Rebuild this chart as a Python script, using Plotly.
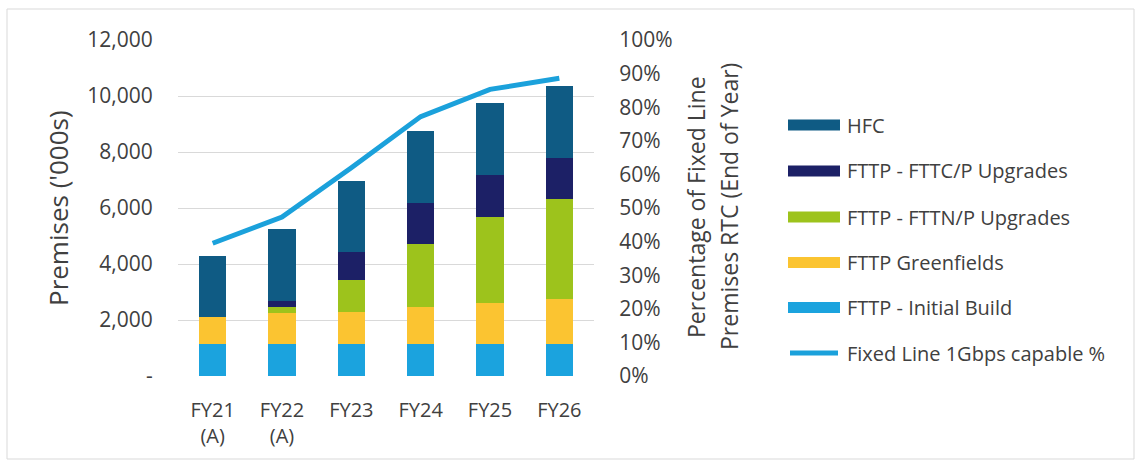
import plotly.graph_objects as go

# Rollout data (premises in '000s)
categories = ["FY21<br>(A)", "FY22<br>(A)", "FY23", "FY24", "FY25", "FY26"]
initial_build = [1150, 1150, 1150, 1150, 1150, 1150]
greenfields = [970, 1110, 1150, 1300, 1450, 1600]
fttn_upgrades = [0, 190, 1130, 2250, 3070, 3560]
fttc_upgrades = [0, 240, 990, 1490, 1510, 1490]
hfc = [2180, 2560, 2540, 2560, 2560, 2570]
gbps_capable_pct = [0.395, 0.473, 0.62, 0.772, 0.853, 0.886]

left_tick_vals = [0, 2000, 4000, 6000, 8000, 10000, 12000]
left_tick_text = ["-", "2,000", "4,000", "6,000", "8,000", "10,000", "12,000"]

bar_series = [
    ("FTTP - Initial Build", initial_build, "#1BA3DE"),
    ("FTTP Greenfields", greenfields, "#FBC431"),
    ("FTTP - FTTN/P Upgrades", fttn_upgrades, "#9DC31C"),
    ("FTTP - FTTC/P Upgrades", fttc_upgrades, "#1C2066"),
    ("HFC", hfc, "#0F5B84"),
]
line_name = "Fixed Line 1Gbps capable %"
line_color = "#1BA1DB"

FONT = "Open Sans"
TEXT = "#404040"
W, H = 1136, 461
L, R, T, B = 178, W - 594, 40, H - 376
PW, PH = W - L - R, H - T - B


def px(x):
    return (x - L) / PW


def py(y):
    return (H - B - y) / PH


fig = go.Figure()
for name, vals, color in bar_series:
    fig.add_trace(go.Bar(x=categories, y=vals, name=name,
                         marker=dict(color=color, line=dict(width=0))))
fig.add_trace(go.Scatter(x=categories, y=gbps_capable_pct, name=line_name,
                         yaxis="y2", mode="lines",
                         line=dict(color=line_color, width=5)))

shapes = []
annotations = []

# chart frame
shapes.append(dict(type="rect", xref="paper", yref="paper",
                   x0=px(7), x1=px(1134), y0=py(459), y1=py(9),
                   line=dict(color="#D9D9D9", width=1), layer="below"))

# custom legend with wide swatches
legend_rows = [
    ("HFC", "#0F5B84", "bar", 125),
    ("FTTP - FTTC/P Upgrades", "#1C2066", "bar", 171),
    ("FTTP - FTTN/P Upgrades", "#9DC31C", "bar", 217),
    ("FTTP Greenfields", "#FBC431", "bar", 262.5),
    ("FTTP - Initial Build", "#1BA3DE", "bar", 307.5),
    (line_name, line_color, "line", 353),
]
for label, color, kind, yc in legend_rows:
    if kind == "bar":
        shapes.append(dict(type="rect", xref="paper", yref="paper",
                           x0=px(788), x1=px(840), y0=py(yc + 5.5), y1=py(yc - 5.5),
                           fillcolor=color, line=dict(width=0)))
    else:
        shapes.append(dict(type="line", xref="paper", yref="paper",
                           x0=px(790), x1=px(838), y0=py(yc), y1=py(yc),
                           line=dict(color=color, width=5)))
    annotations.append(dict(text=label, xref="paper", yref="paper",
                            x=px(845), y=py(yc), xanchor="left", yanchor="middle",
                            showarrow=False, font=dict(family=FONT, size=20, color=TEXT)))

# axis titles
annotations.append(dict(text="Premises ('000s)", xref="paper", yref="paper",
                        x=px(58), y=py(208), textangle=-90, showarrow=False,
                        xanchor="center", yanchor="middle",
                        font=dict(family=FONT, size=26, color=TEXT)))
annotations.append(dict(text="Percentage of Fixed Line", xref="paper", yref="paper",
                        x=px(696), y=py(207), textangle=-90, showarrow=False,
                        xanchor="center", yanchor="middle",
                        font=dict(family=FONT, size=23, color=TEXT)))
annotations.append(dict(text="Premises RTC (End of Year)", xref="paper", yref="paper",
                        x=px(729), y=py(207), textangle=-90, showarrow=False,
                        xanchor="center", yanchor="middle",
                        font=dict(family=FONT, size=23, color=TEXT)))

fig.update_layout(
    width=W, height=H,
    margin=dict(l=L, r=R, t=T, b=B),
    paper_bgcolor="white", plot_bgcolor="white",
    barmode="stack", bargap=0.61,
    showlegend=False,
    font=dict(family=FONT, size=20, color=TEXT),
    xaxis=dict(showgrid=False, showline=False, zeroline=False,
               ticks="outside", ticklen=16, tickcolor="rgba(0,0,0,0)",
               tickfont=dict(size=20, color=TEXT)),
    yaxis=dict(range=[0, 12000], tickvals=left_tick_vals, ticktext=left_tick_text,
               showgrid=True, gridcolor="#D9D9D9", gridwidth=1,
               zeroline=False, showline=False,
               ticks="outside", ticklen=20, tickcolor="rgba(0,0,0,0)",
               tickfont=dict(size=21, color=TEXT)),
    yaxis2=dict(range=[0, 1], overlaying="y", side="right", dtick=0.1,
                tickformat=".0%", showgrid=False, zeroline=False, showline=False,
                ticks="outside", ticklen=20, tickcolor="rgba(0,0,0,0)",
                tickfont=dict(size=21, color=TEXT)),
    shapes=shapes,
    annotations=annotations,
)

fig.write_html("out.html")
